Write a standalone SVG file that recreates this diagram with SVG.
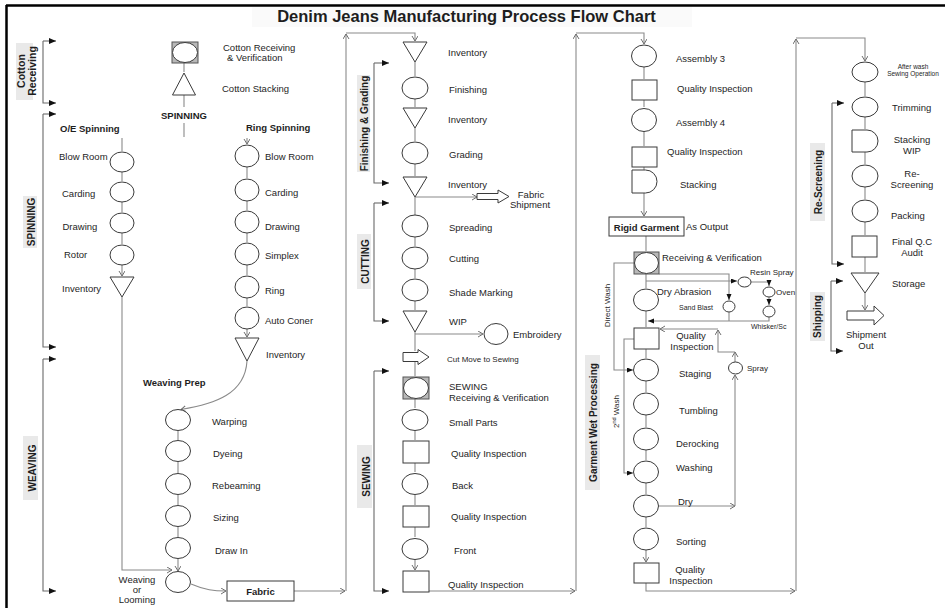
<svg xmlns="http://www.w3.org/2000/svg" width="945" height="613" viewBox="0 0 945 613">
<defs>
<style>
.s{fill:#fff;stroke:#3a3a3a;stroke-width:1}
.g{fill:#b8b8b8;stroke:#555;stroke-width:1}
.c{fill:none;stroke:#8a8a8a;stroke-width:1.1}
.ca{marker-end:url(#ch)}
.cf{marker-end:url(#fa)}
.k{fill:none;stroke:#6a6a6a;stroke-width:1.1;marker-end:url(#fb)}
.lb{fill:#e9e9e9}
text{font-family:"Liberation Sans",Arial,sans-serif;font-size:9.5px;fill:#1e1e1e}
.b{font-weight:bold}
.v{font-weight:bold;font-size:10px;text-anchor:middle}
.m{text-anchor:middle}
.sm{font-size:8px}
.xs{font-size:7px}
.xxs{font-size:6.5px}
</style>
<marker id="ch" markerWidth="8" markerHeight="8" refX="5" refY="3" orient="auto" markerUnits="userSpaceOnUse"><path d="M0,0 L5,3 L0,6" fill="none" stroke="#6e6e6e" stroke-width="1"/></marker>
<marker id="fa" markerWidth="8" markerHeight="8" refX="6" refY="2.5" orient="auto" markerUnits="userSpaceOnUse"><path d="M0,0 L6,2.5 L0,5 Z" fill="#111"/></marker>
<marker id="fb" markerWidth="9" markerHeight="8" refX="7" refY="3" orient="auto" markerUnits="userSpaceOnUse"><path d="M0,0 L7,3 L0,6 Z" fill="#111"/></marker>
</defs>
<rect width="945" height="613" fill="#fff"/>
<rect x="252" y="7" width="440" height="20" fill="#fafafa"/>
<path d="M6,5.5 H945 M6.5,5 V608" stroke="#000" stroke-width="2.5" fill="none"/>
<text class="b m" x="466.5" y="22" style="font-size:16.5px">Denim Jeans Manufacturing Process Flow Chart</text>

<g id="section-labels">
<g id="sec-cotton"><rect class="lb" x="16" y="43" width="17" height="57"/><text class="v" style="font-size:10.5px" transform="translate(25,71) rotate(-90)">Cotton</text><text class="v" style="font-size:10.5px" transform="translate(36,71) rotate(-90)">Receiving</text></g>
<g id="sec-spinning"><rect class="lb" x="23" y="196" width="14" height="52"/><text class="v" transform="translate(34.5,222) rotate(-90)">SPINNING</text></g>
<g id="sec-weaving"><rect class="lb" x="23" y="436" width="15" height="64"/><text class="v" transform="translate(35.5,468) rotate(-90)">WEAVING</text></g>
<g id="sec-finishing"><rect class="lb" x="357" y="75" width="13" height="97"/><text class="v" transform="translate(368,123.5) rotate(-90)">Finishing &amp; Grading</text></g>
<g id="sec-cutting"><rect class="lb" x="357" y="234" width="14" height="55"/><text class="v" transform="translate(369,261.5) rotate(-90)">CUTTING</text></g>
<g id="sec-sewing"><rect class="lb" x="357" y="445" width="15" height="63"/><text class="v" transform="translate(369.5,476.5) rotate(-90)">SEWING</text></g>
<g id="sec-wet"><rect class="lb" x="585" y="355" width="15" height="135"/><text class="v" transform="translate(596.5,422.5) rotate(-90)">Garment Wet Processing</text></g>
<g id="sec-rescreening"><rect class="lb" x="810" y="143" width="15" height="78"/><text class="v" transform="translate(821.5,182) rotate(-90)">Re-Screening</text></g>
<g id="sec-shipping"><rect class="lb" x="810" y="292" width="15" height="49"/><text class="v" transform="translate(821,316.5) rotate(-90)">Shipping</text></g>
</g>

<g id="connectors">
<g class="c ca">
<path d="M184,63V72M184,95V107M184,123V137M122,138V151M247,138V144"/>
<path d="M122,172V181M122,202V212M122,233V244M122,265V276"/>
<path d="M122,297V570H172"/>
<path d="M247,167V178M247,201V210M247,233V242M247,265V275M247,298V306M247,329V337"/>
<path d="M247,361C245,394 215,404 181,409.5"/>
<path d="M178,430.5V440M178,461.5V473M178,494.5V505M178,526.5V537M178,558.5V571"/>
<path d="M191,584C205,590 214,591 226,591"/>
<path d="M294,591H345"/><path d="M346,591V34"/><path d="M346,33H415V41"/>
<path d="M415,62V76M415,99V107M415,128V141M415,164V176M415,197V215M415,237V246M415,269V278M415,301V310M415,332V351M415,362V376M415,399V408M415,431V440M415,463V472M415,495V505M415,527V537M415,560V570"/>
<path d="M415,197H477"/><path d="M415,334H483"/>
<path d="M428,591H575"/><path d="M576,591V34"/><path d="M576,33H644V44"/>
<path d="M644,67V79M644,100V107M644,131V146M644,167V170M644,193V216"/>
<path d="M646,236V251M646,274V288M646,311V327M646,349V358M646,381V392M646,415V427M646,450V460M646,483V494M646,517V527M646,550V562"/>
<path d="M646,583V591H795"/><path d="M796,591V39"/><path d="M796,38H865V61"/>
<path d="M865,82V96M865,117V129M865,152V164M865,187V199M865,222V235M865,257V272M865,293V310"/>
<path d="M659,506H735"/><path d="M735,506V375"/><path d="M735,362V352"/><path d="M735,352H718V330"/><path d="M718,329H660"/>
</g>
<g class="c cf">
<path d="M634,263H614V370H633"/>
<path d="M634,339H624V473H633"/>
<path d="M659,274H729V300"/>
<path d="M646,281H737"/>
<path d="M751,282H769V286"/>
<path d="M769,297V305"/>
<path d="M769,317V321H648"/>
</g>
<path class="c" d="M729,312V321"/>
<g id="brackets">
<path class="k" d="M43,41H56"/><path class="k" d="M43,41V103H56"/>
<path class="k" d="M43,114H56"/><path class="k" d="M43,114V347H56"/>
<path class="k" d="M43,359H56"/><path class="k" d="M43,359V591H56"/>
<path class="k" d="M374,63H389"/><path class="k" d="M374,63V183H389"/>
<path class="k" d="M374,203H389"/><path class="k" d="M374,203V321H389"/>
<path class="k" d="M374,371H389"/><path class="k" d="M374,371V591H389"/>
<path class="k" d="M832,103H844"/><path class="k" d="M832,103V264H844"/>
<path class="k" d="M831,281H843"/><path class="k" d="M831,281V351H843"/>
</g>
</g>

<g id="n-cotton-receiving"><rect class="g" x="172" y="42" width="26" height="21"/><ellipse class="s" cx="185" cy="52.5" rx="12.5" ry="10"/><text x="223" y="51">Cotton Receiving</text><text x="227" y="61">&amp; Verification</text></g>
<g id="n-cotton-stacking"><polygon class="s" points="184,73 172.5,95 195.5,95"/><text x="222" y="91.5">Cotton Stacking</text></g>
<g id="n-spinning"><text class="b m" x="184" y="118.5">SPINNING</text></g>
<g id="n-oe-spinning"><text class="b" x="60" y="131.5">O/E Spinning</text></g>
<g id="n-ring-spinning"><text class="b" x="246" y="131">Ring Spinning</text></g>

<g id="n-oe-blow-room"><ellipse class="s" cx="122" cy="162" rx="12" ry="10"/><text x="59" y="159.5">Blow Room</text></g>
<g id="n-oe-carding"><ellipse class="s" cx="122" cy="192" rx="12" ry="10"/><text x="62" y="196.5">Carding</text></g>
<g id="n-oe-drawing"><ellipse class="s" cx="122" cy="223" rx="12" ry="10"/><text x="62.5" y="229.5">Drawing</text></g>
<g id="n-oe-rotor"><ellipse class="s" cx="122" cy="255" rx="12" ry="10"/><text x="64" y="257.5">Rotor</text></g>
<g id="n-oe-inventory"><polygon class="s" points="110,277 134,277 122,297"/><text x="62" y="291.5">Inventory</text></g>

<g id="n-ring-blow-room"><ellipse class="s" cx="247" cy="156" rx="12" ry="11"/><text x="265" y="159.5">Blow Room</text></g>
<g id="n-ring-carding"><ellipse class="s" cx="247" cy="190" rx="12" ry="11"/><text x="265" y="196">Carding</text></g>
<g id="n-ring-drawing"><ellipse class="s" cx="247" cy="222" rx="12" ry="11"/><text x="265" y="229.5">Drawing</text></g>
<g id="n-ring-simplex"><ellipse class="s" cx="247" cy="254" rx="12" ry="11"/><text x="265" y="259">Simplex</text></g>
<g id="n-ring-ring"><ellipse class="s" cx="247" cy="287" rx="12" ry="11"/><text x="265" y="293.5">Ring</text></g>
<g id="n-ring-auto-coner"><ellipse class="s" cx="247" cy="318" rx="12" ry="11"/><text x="265" y="323.5">Auto Coner</text></g>
<g id="n-ring-inventory"><polygon class="s" points="235,338 259,338 247,361"/><text x="266" y="357.5">Inventory</text></g>

<g id="n-weaving-prep"><text class="b" x="143" y="386">Weaving Prep</text></g>
<g id="n-warping"><ellipse class="s" cx="178" cy="420" rx="12.5" ry="10.5"/><text x="212" y="424.5">Warping</text></g>
<g id="n-dyeing"><ellipse class="s" cx="178" cy="451" rx="12.5" ry="10.5"/><text x="213" y="456.5">Dyeing</text></g>
<g id="n-rebeaming"><ellipse class="s" cx="178" cy="484" rx="12.5" ry="10.5"/><text x="212" y="488.5">Rebeaming</text></g>
<g id="n-sizing"><ellipse class="s" cx="178" cy="516" rx="12.5" ry="10.5"/><text x="213" y="520.5">Sizing</text></g>
<g id="n-draw-in"><ellipse class="s" cx="178" cy="548" rx="12.5" ry="10.5"/><text x="215" y="553.5">Draw In</text></g>
<g id="n-weaving-looming"><ellipse class="s" cx="178" cy="582" rx="12.5" ry="10.5"/><text class="m" x="137" y="583">Weaving</text><text class="m" x="137" y="593">or</text><text class="m" x="137" y="603">Looming</text></g>
<g id="n-fabric"><rect class="s" x="227" y="581" width="67" height="20"/><text class="b m" x="260.5" y="594.5">Fabric</text></g>

<g id="n-fg-inventory-1"><polygon class="s" points="403,42 427,42 415,62"/><text x="448" y="55.5">Inventory</text></g>
<g id="n-finishing"><ellipse class="s" cx="415" cy="88" rx="13" ry="11"/><text x="449" y="92.5">Finishing</text></g>
<g id="n-fg-inventory-2"><polygon class="s" points="403,108 427,108 415,128"/><text x="448" y="122.5">Inventory</text></g>
<g id="n-grading"><ellipse class="s" cx="415" cy="153" rx="13" ry="11"/><text x="449" y="157.5">Grading</text></g>
<g id="n-fg-inventory-3"><polygon class="s" points="403,177 427,177 415,197"/><text x="448" y="187.5">Inventory</text></g>
<g id="n-fabric-shipment"><path class="s" d="M477,193.5H498V190L509,196.5L498,203V199.5H477Z"/><text class="m" x="531" y="197.5">Fabric</text><text class="m" x="530" y="208">Shipment</text></g>

<g id="n-spreading"><ellipse class="s" cx="415" cy="226" rx="13" ry="11"/><text x="449" y="230.5">Spreading</text></g>
<g id="n-cutting"><ellipse class="s" cx="415" cy="258" rx="13" ry="11"/><text x="449" y="261.5">Cutting</text></g>
<g id="n-shade-marking"><ellipse class="s" cx="415" cy="290" rx="13" ry="11"/><text x="449" y="296">Shade Marking</text></g>
<g id="n-wip"><polygon class="s" points="403,311 427,311 415,332"/><text x="449" y="324.5">WIP</text></g>
<g id="n-embroidery"><ellipse class="s" cx="496" cy="334" rx="12" ry="10.5"/><text x="513" y="337.5">Embroidery</text></g>
<g id="n-cut-move"><path class="s" d="M403,352.5H418V349.5L429,357L418,364.5V361.5H403Z"/><text class="sm" x="447" y="362">Cut Move to Sewing</text></g>

<g id="n-sewing-receiving"><rect class="g" x="403" y="377" width="26" height="22"/><ellipse class="s" cx="416" cy="388" rx="12.5" ry="10.5"/><text x="449" y="389.5">SEWING</text><text x="449" y="400.5">Receiving &amp; Verification</text></g>
<g id="n-small-parts"><ellipse class="s" cx="415" cy="420" rx="13" ry="10.5"/><text x="449" y="425.5">Small Parts</text></g>
<g id="n-qi-1"><rect class="s" x="403" y="441" width="26" height="22"/><text x="451" y="456.5">Quality Inspection</text></g>
<g id="n-back"><ellipse class="s" cx="415" cy="484" rx="13" ry="10.5"/><text x="452" y="488.5">Back</text></g>
<g id="n-qi-2"><rect class="s" x="403" y="506" width="26" height="21"/><text x="451" y="519.5">Quality Inspection</text></g>
<g id="n-front"><ellipse class="s" cx="415" cy="549" rx="13" ry="10.5"/><text x="454" y="553.5">Front</text></g>
<g id="n-qi-3"><rect class="s" x="403" y="571" width="26" height="21"/><text x="448" y="588">Quality Inspection</text></g>

<g id="n-assembly-3"><ellipse class="s" cx="644" cy="56" rx="12.5" ry="11"/><text x="676" y="61.5">Assembly 3</text></g>
<g id="n-qi-4"><rect class="s" x="632" y="80" width="25" height="20"/><text x="677" y="91.5">Quality Inspection</text></g>
<g id="n-assembly-4"><ellipse class="s" cx="644" cy="120" rx="12.5" ry="11.5"/><text x="676" y="125.5">Assembly 4</text></g>
<g id="n-qi-5"><rect class="s" x="632" y="147" width="25" height="20"/><text x="667" y="154.5">Quality Inspection</text></g>
<g id="n-stacking"><path class="s" d="M632,170H645.5A11.5,11.5 0 0 1 645.5,193H632Z"/><text x="680" y="187.5">Stacking</text></g>
<g id="n-rigid-garment"><rect class="s" x="609" y="217" width="75" height="19"/><text class="b m" x="646.5" y="230.5">Rigid Garment</text><text x="686" y="229.5">As Output</text></g>

<g id="n-wet-receiving"><rect class="g" x="634" y="252" width="25" height="22"/><ellipse class="s" cx="646.5" cy="263" rx="12" ry="10.5"/><text x="662" y="260.5">Receiving &amp; Verification</text></g>
<g id="n-dry-abrasion"><ellipse class="s" cx="646" cy="300" rx="12.5" ry="11"/><text x="657" y="294.5">Dry Abrasion</text></g>
<g id="n-sand-blast"><ellipse class="s" cx="729" cy="306.5" rx="6" ry="5.5"/><text class="xs" x="679" y="309.5">Sand Blast</text></g>
<g id="n-resin-spray"><ellipse class="s" cx="744.5" cy="282" rx="6.5" ry="5"/><text class="sm" x="750" y="275">Resin Spray</text></g>
<g id="n-oven"><ellipse class="s" cx="769" cy="292" rx="6" ry="5"/><text class="sm" x="776" y="295">Oven</text></g>
<g id="n-whisker"><ellipse class="s" cx="769" cy="311.5" rx="6" ry="5.5"/><text class="xs" x="751" y="328.5">Whisker/Sc</text></g>
<g id="n-qi-wet-1"><rect class="s" x="634" y="328" width="25" height="21"/><text class="m" x="691" y="339">Quality</text><text class="m" x="692" y="349.5">Inspection</text></g>
<g id="n-spray"><ellipse class="s" cx="735.5" cy="368" rx="7" ry="6"/><text class="sm" x="747" y="371">Spray</text></g>
<g id="n-staging"><ellipse class="s" cx="646" cy="370" rx="12.5" ry="11"/><text x="679" y="376.5">Staging</text></g>
<g id="n-tumbling"><ellipse class="s" cx="646" cy="404" rx="12.5" ry="11"/><text x="679" y="414">Tumbling</text></g>
<g id="n-derocking"><ellipse class="s" cx="646" cy="439" rx="12.5" ry="11"/><text x="676" y="446.5">Derocking</text></g>
<g id="n-washing"><ellipse class="s" cx="646" cy="472" rx="12.5" ry="11"/><text x="676" y="470.5">Washing</text></g>
<g id="n-dry"><ellipse class="s" cx="646" cy="506" rx="12.5" ry="11"/><text x="678" y="504.5">Dry</text></g>
<g id="n-sorting"><ellipse class="s" cx="646" cy="539" rx="12.5" ry="11"/><text x="676" y="544.5">Sorting</text></g>
<g id="n-qi-wet-2"><rect class="s" x="634" y="563" width="25" height="20"/><text class="m" x="690" y="573">Quality</text><text class="m" x="691" y="583.5">Inspection</text></g>
<g id="lbl-direct-wash"><text class="sm m" transform="translate(610,305.5) rotate(-90)">Direct Wash</text></g>
<g id="lbl-2nd-wash"><text class="sm" transform="translate(619,428) rotate(-90)">2<tspan style="font-size:5.5px" dy="-3">nd</tspan><tspan dy="3"> Wash</tspan></text></g>

<g id="n-after-wash"><ellipse class="s" cx="865" cy="72" rx="13" ry="10"/><text class="xxs m" x="913" y="68.5">After wash</text><text class="xxs m" x="913" y="76">Sewing Operation</text></g>
<g id="n-trimming"><ellipse class="s" cx="865" cy="107" rx="13" ry="10"/><text x="892" y="110.5">Trimming</text></g>
<g id="n-stacking-wip"><path class="s" d="M852,130H867A11,11 0 0 1 867,152H852Z"/><text class="m" x="912" y="143">Stacking</text><text class="m" x="912" y="153.5">WIP</text></g>
<g id="n-re-screening"><ellipse class="s" cx="865" cy="176" rx="13" ry="11"/><text class="m" x="912" y="177">Re-</text><text class="m" x="912" y="187.5">Screening</text></g>
<g id="n-packing"><ellipse class="s" cx="865" cy="211" rx="13" ry="11"/><text x="891" y="219">Packing</text></g>
<g id="n-final-qc"><rect class="s" x="852" y="236" width="25" height="21"/><text class="m" x="912" y="245">Final Q.C</text><text class="m" x="912" y="255.5">Audit</text></g>
<g id="n-storage"><polygon class="s" points="851,273 879,273 865,293"/><text x="892" y="286.5">Storage</text></g>
<g id="n-shipment-out"><path class="s" d="M847,311H874V306L884,315.5L874,325V320H847Z"/><text class="m" x="866" y="338">Shipment</text><text class="m" x="866" y="348.5">Out</text></g>
</svg>
